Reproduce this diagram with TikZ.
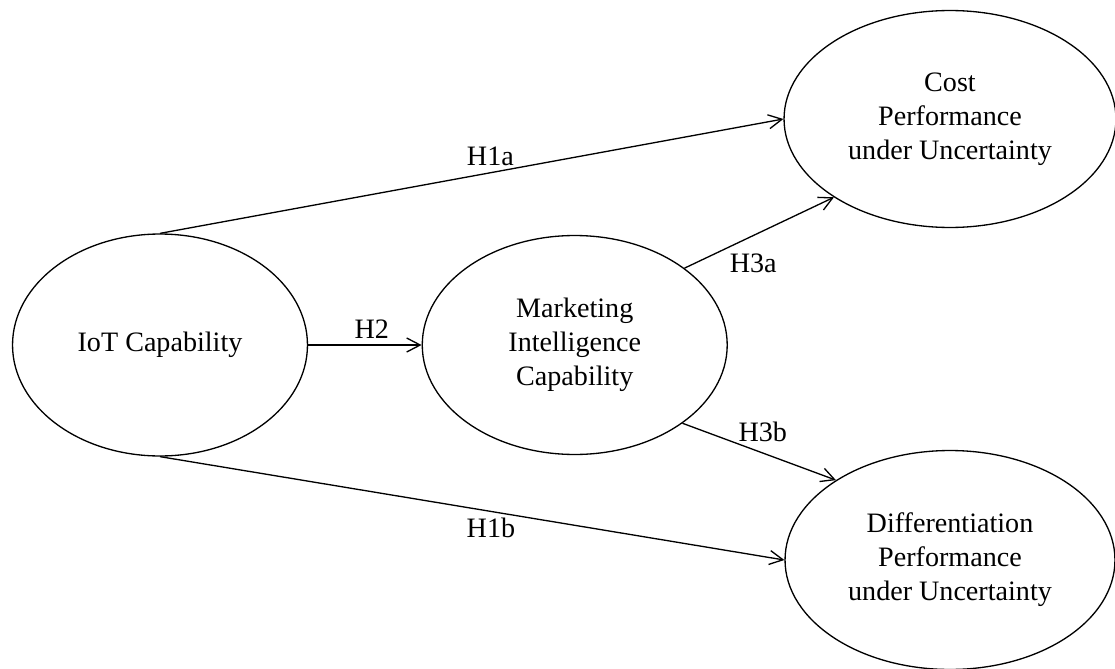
\documentclass[tikz,border=0pt]{standalone}
\usepackage{fontspec}
\setmainfont{Liberation Serif}
\usetikzlibrary{arrows.meta, positioning, shapes.geometric}

\begin{document}
\begin{tikzpicture}[
    x=0.02cm, y=-0.02cm,
    construct/.style={draw, ellipse, line width=0.75pt, inner sep=0pt, align=center, font=\fontsize{16}{19.4}\selectfont},
    path/.style={->, line width=0.75pt},
    hyp/.style={font=\fontsize{16}{19.4}\selectfont},
    >={Straight Barb[length=2.7mm, width=2.8mm]}]
  \useasboundingbox (0,0) rectangle (1115,669);
  \node[construct, minimum width=5.9cm, minimum height=4.44cm] (iot) at (160,345) {IoT Capability};
  \node[construct, minimum width=6.1cm, minimum height=4.38cm, right=2.27cm of iot] (mic) {Marketing\\Intelligence\\Capability};
  \node[construct, minimum width=6.64cm, minimum height=4.34cm] (cost) at (950,119) {Cost\\Performance\\under Uncertainty};
  \node[construct, minimum width=6.6cm, minimum height=4.38cm] (diff) at (950,560) {Differentiation\\Performance\\under Uncertainty};
  % direct effects
  \draw[path] (iot.north) -- node[hyp, pos=0.53, above]{H1a} (cost.west);
  \draw[path] (iot.south) -- node[hyp, pos=0.53, below]{H1b} (diff.west);
  \draw[path] (iot.east) -- node[hyp, pos=0.56, above]{H2} (mic.west);
  % via marketing intelligence
  \draw[path] (mic.35) -- node[hyp, pos=0.46, below=7pt]{H3a} (cost.214);
  \draw[path] (mic.324) -- node[hyp, pos=0.5, above=2pt, xshift=2pt]{H3b} (diff.145);
\end{tikzpicture}
\end{document}
